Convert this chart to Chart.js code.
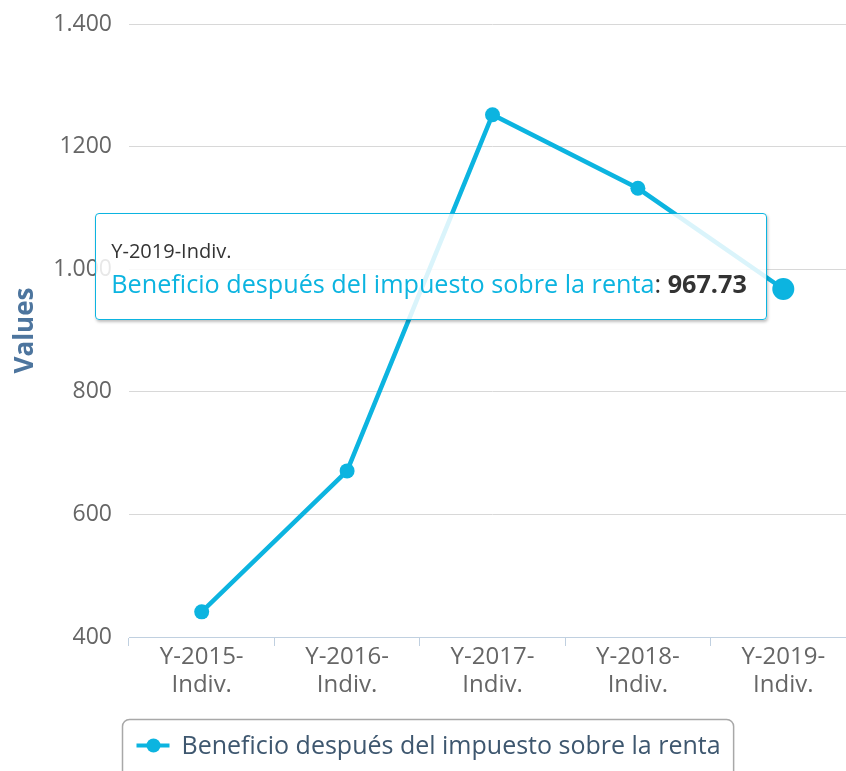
<!DOCTYPE html>
<html>
<head>
<meta charset="utf-8">
<title>Beneficio después del impuesto sobre la renta</title>
<script src="https://cdn.jsdelivr.net/npm/chart.js@4.4.1/dist/chart.umd.min.js"></script>
<style>
  html, body { margin: 0; padding: 0; background: #fff; overflow: hidden; }
  #wrap { position: relative; width: 856px; height: 771px; }
  #tip {
    position: absolute; display: none; white-space: nowrap;
    font-family: "Open Sans", sans-serif;
    background: rgba(255,255,255,0.85);
    border: 1.5px solid #0cb4e0; border-radius: 4px;
    box-shadow: 1px 2px 3px rgba(0,0,0,0.25);
    padding: 24px 19px 18px 15px;
  }
  #tip .t-title { font-size: 20px; line-height: 26px; color: #333; }
  #tip .t-body { font-size: 25.2px; line-height: 35px; margin-top: 2px; color: #333; }
  #tip .t-body b { font-weight: bold; }
</style>
</head>
<body>
<div id="wrap">
  <canvas id="chart"></canvas>
  <div id="tip"></div>
</div>
<script>
// ===== Data =====
var categories   = ['Y-2015-Indiv.', 'Y-2016-Indiv.', 'Y-2017-Indiv.', 'Y-2018-Indiv.', 'Y-2019-Indiv.'];
var seriesName   = 'Beneficio después del impuesto sobre la renta';
var profitValues = [441, 671, 1252, 1132, 967.73];
var yTickValues  = [400, 600, 800, 1000, 1200, 1400];
var yTickLabels  = ['400', '600', '800', '1.000', '1200', '1.400'];
var hoverIndex   = 4;

var FONT = '"Open Sans", sans-serif';
var LINE = '#0cb4e0';

// legend drawn inside a rounded box (Highcharts style)
var boxedLegend = {
  id: 'boxedLegend',
  afterDraw: function(chart) {
    var ctx = chart.ctx;
    var ds = chart.data.datasets[0];
    ctx.save();
    ctx.font = '25px ' + FONT;
    var tw = ctx.measureText(ds.label).width;
    var w = tw + 72;
    var x = Math.round(chart.width / 2 - w / 2) + 0.5;
    var y = chart.height - 52 + 0.5;
    ctx.strokeStyle = '#a8a8a8';
    ctx.lineWidth = 1.5;
    ctx.beginPath();
    ctx.roundRect(x, y, w, 70, 7);
    ctx.stroke();
    var my = y + 26;
    ctx.strokeStyle = ds.borderColor;
    ctx.lineWidth = 4;
    ctx.beginPath(); ctx.moveTo(x + 14, my); ctx.lineTo(x + 47, my); ctx.stroke();
    ctx.fillStyle = ds.borderColor;
    ctx.beginPath(); ctx.arc(x + 31, my, 7, 0, Math.PI * 2); ctx.fill();
    ctx.fillStyle = '#3e576f';
    ctx.textBaseline = 'middle';
    ctx.fillText(ds.label, x + 59, my + 1);
    ctx.restore();
  }
};

function externalTip(context) {
  var tip = document.getElementById('tip');
  var model = context.tooltip;
  if (!model || model.opacity === 0 || !model.dataPoints || !model.dataPoints.length) {
    tip.style.display = 'none';
    return;
  }
  var dp = model.dataPoints[0];
  tip.innerHTML =
    '<div class="t-title">' + categories[dp.dataIndex] + '</div>' +
    '<div class="t-body"><span style="color:' + dp.dataset.borderColor + '">' + dp.dataset.label +
    '</span>: <b>' + dp.raw.toFixed(2) + '</b></div>';
  tip.style.display = 'block';
  tip.style.left = (model.caretX - 16 - tip.offsetWidth) + 'px';
  tip.style.top = (model.caretY - 76) + 'px';
}

var chart = new Chart(document.getElementById('chart'), {
  type: 'line',
  data: {
    labels: categories,
    datasets: [{
      label: seriesName,
      data: profitValues,
      borderColor: LINE,
      backgroundColor: LINE,
      borderWidth: 4.5,
      tension: 0,
      pointRadius: 7.5,
      pointHoverRadius: 11,
      pointBackgroundColor: LINE,
      pointBorderWidth: 0,
      pointHoverBorderWidth: 0,
      pointHoverBackgroundColor: LINE,
    }],
  },
  options: {
    responsive: true,
    maintainAspectRatio: false,
    animation: false,
    events: [],
    layout: { autoPadding: false, padding: { top: 24, right: 0, bottom: 71, left: 0 } },
    plugins: {
      legend: { display: false },
      tooltip: { enabled: false, external: externalTip, mode: 'nearest', intersect: false },
    },
    scales: {
      x: {
        offset: true,
        afterFit: function(s) { s.height = 63; s.paddingLeft = 0; s.paddingRight = 0; },
        grid: { drawOnChartArea: false, drawTicks: true, tickLength: 9, color: '#c0d0e0', offset: true },
        border: { display: true, color: '#c0d0e0', width: 1 },
        ticks: {
          color: '#666',
          padding: -3,
          maxRotation: 0,
          autoSkip: false,
          font: { family: FONT, size: 24, lineHeight: 1.18 },
          callback: function(v, i) {
            var lbl = categories[i];
            var cut = lbl.lastIndexOf('-') + 1;
            return [lbl.slice(0, cut), lbl.slice(cut)];
          },
        },
      },
      y: {
        min: 400,
        max: 1400,
        afterFit: function(s) { s.width = 129; s.paddingTop = 0; s.paddingBottom = 0; },
        grid: {
          drawTicks: false,
          color: function(c) { return c.tick && c.tick.value === 400 ? 'rgba(0,0,0,0)' : '#d8d8d8'; },
        },
        border: { display: false },
        ticks: {
          stepSize: 200,
          color: '#666',
          padding: 17,
          font: { family: FONT, size: 23 },
          callback: function(v) {
            var i = yTickValues.indexOf(v);
            return i >= 0 ? yTickLabels[i] : '';
          },
        },
        title: {
          display: true,
          text: 'Values',
          color: '#4d759e',
          font: { family: FONT, size: 26, weight: 'bold' },
          padding: { top: 10, bottom: 0 },
        },
      },
    },
  },
  plugins: [boxedLegend],
});

var act = [{ datasetIndex: 0, index: hoverIndex }];
chart.setActiveElements(act);
chart.tooltip.setActiveElements(act, { x: 0, y: 0 });
chart.update();
</script>
</body>
</html>
